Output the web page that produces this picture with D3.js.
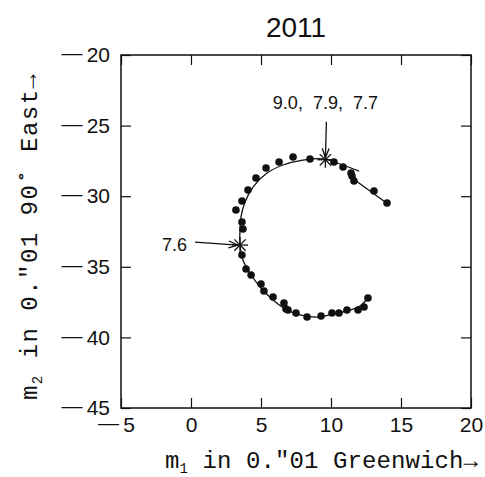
<!DOCTYPE html>
<html>
<head>
<meta charset="utf-8">
<script src="https://cdn.jsdelivr.net/npm/d3@7"></script>
<style>
  body { margin: 0; background: #fff; }
  svg { display: block; }
</style>
</head>
<body>
<div id="chart"></div>
<script>
// polar motion, 2011
const title = '2011'

// observed pole positions (dots)
const obsX = [8.5, 7.29, 6.29, 5.36, 4.64, 4.07, 3.64, 3.21, 3.64, 3.71, 3.64,
  10.21, 10.86, 11.43, 11.5, 11.64, 13.07, 14.0,
  3.93, 4.29, 5.0, 5.21, 5.86, 6.64, 6.79, 6.93, 7.5, 8.29, 9.29, 10.07, 10.57,
  11.14, 11.93, 12.36, 12.64]
const obsY = [-27.37, -27.22, -27.58, -28.0, -28.71, -29.56, -30.34, -30.98, -31.83, -32.32, -34.16,
  -27.58, -27.93, -28.36, -28.57, -28.92, -29.63, -30.48,
  -35.16, -35.58, -36.22, -36.71, -37.14, -37.56, -37.99, -38.06, -38.27, -38.56, -38.48, -38.27, -38.27,
  -38.06, -38.06, -37.85, -37.21]

// fitted path
const fitX = [12.64, 12.07, 11.36, 10.14, 9.21, 7.79, 6.86, 5.86, 4.93, 4.21, 3.71, 3.5,
  3.5, 3.57, 3.86, 4.43, 5.43, 6.57, 8.0, 9.57, 10.64, 12.0]
const fitY = [-37.21, -37.78, -38.06, -38.34, -38.56, -38.41, -38.06, -37.35, -36.43, -35.44, -34.52, -33.46,
  -32.39, -31.47, -30.41, -29.35, -28.36, -27.79, -27.44, -27.37, -27.72, -28.22]

// short segment at the end of the year
const tailX = [11.5, 14.07]
const tailY = [-28.71, -30.55]

// marked epochs
const starX = [9.6, 3.5]
const starY = [-27.42, -33.46]
const starLabels = ['9.0,  7.9,  7.7', '7.6']

const xTicks = [-5, 0, 5, 10, 15, 20]
const yTicks = [-45, -40, -35, -30, -25, -20]

const W = 485, H = 477
const box = {left: 121, top: 55, right: 471, bottom: 408}
const tickFont = 21

const svg = d3.select('#chart').append('svg')
  .attr('width', W)
  .attr('height', H)
  .style('font-family', '"Liberation Sans", Arial, sans-serif')

const x = d3.scaleLinear().domain([-5, 20]).range([box.left, box.right])
const y = d3.scaleLinear().domain([-45, -20]).range([box.bottom, box.top])

// negatives get a long dash raised to mid height, like the original
function longMinus (sel, shiftEm) {
  sel.filter(d => d < 0).each(function (d) {
    const t = d3.select(this).text(null).attr('dy', null)
    t.append('tspan').attr('dy', shiftEm * tickFont - 2).text('\u2014')
    t.append('tspan').attr('dy', 2).text('\u2009' + Math.abs(d))
  })
}

function drawAxes () {
  const gb = svg.append('g')
    .attr('transform', `translate(0,${box.bottom})`)
    .call(d3.axisBottom(x).tickValues(xTicks).tickFormat(d3.format('d')).tickSize(-10).tickSizeOuter(0).tickPadding(9))
  const gl = svg.append('g')
    .attr('transform', `translate(${box.left},0)`)
    .call(d3.axisLeft(y).tickValues(yTicks).tickFormat(d3.format('d')).tickSize(-10).tickSizeOuter(0).tickPadding(11))
  const gt = svg.append('g')
    .attr('transform', `translate(0,${box.top})`)
    .call(d3.axisTop(x).tickValues(xTicks).tickFormat('').tickSize(-10).tickSizeOuter(0))
  const gr = svg.append('g')
    .attr('transform', `translate(${box.right},0)`)
    .call(d3.axisRight(y).tickValues(yTicks).tickFormat('').tickSize(-10).tickSizeOuter(0))

  for (const g of [gb, gl, gt, gr]) {
    g.select('.domain').remove()
    g.selectAll('line').attr('stroke', '#111').attr('stroke-width', 1.2)
    g.selectAll('text')
      .attr('fill', '#111')
      .style('font-size', tickFont + 'px')
      .style('font-family', '"Liberation Sans", Arial, sans-serif')
  }
  gb.selectAll('text').call(longMinus, 0.71)
  gl.selectAll('text').call(longMinus, 0.32)
  // keep "-5" centred on its digit like the original
  gb.selectAll('text').filter(d => d < 0).attr('dx', -5)

  svg.append('rect')
    .attr('x', box.left).attr('y', box.top)
    .attr('width', box.right - box.left).attr('height', box.bottom - box.top)
    .attr('fill', 'none').attr('stroke', '#111').attr('stroke-width', 1.5)
}

function drawLabels () {
  svg.append('text')
    .attr('x', (box.left + box.right) / 2)
    .attr('y', 37)
    .attr('text-anchor', 'middle')
    .style('font-size', '28px')
    .attr('fill', '#111')
    .text(title)

  const mono = '"Liberation Mono", "Courier New", monospace'

  const xl = svg.append('text')
    .attr('x', 165).attr('y', 468)
    .attr('textLength', 313).attr('lengthAdjust', 'spacing')
    .style('font-family', mono).style('font-size', '24px')
    .attr('fill', '#111')
  xl.append('tspan').text('m')
  xl.append('tspan').attr('dy', 5).style('font-size', '14px').text('1')
  xl.append('tspan').attr('dy', -5).text(' in 0.\u203301 Greenwich\u2192')

  const yl = svg.append('text')
    .attr('transform', 'translate(37,400) rotate(-90)')
    .attr('textLength', 326).attr('lengthAdjust', 'spacing')
    .style('font-family', mono).style('font-size', '24px')
    .attr('fill', '#111')
  yl.append('tspan').text('m')
  yl.append('tspan').attr('dy', 5).style('font-size', '14px').text('2')
  yl.append('tspan').attr('dy', -5).text(' in 0.\u203301 90\u02da East\u2192')
}

function drawData () {
  const line = d3.line()
    .x(d => x(d[0]))
    .y(d => y(d[1]))
    .curve(d3.curveCatmullRom.alpha(0.5))

  svg.append('path')
    .datum(d3.zip(fitX, fitY))
    .attr('d', line)
    .attr('fill', 'none').attr('stroke', '#111').attr('stroke-width', 1.3)

  svg.append('path')
    .datum(d3.zip(tailX, tailY))
    .attr('d', d3.line().x(d => x(d[0])).y(d => y(d[1])))
    .attr('fill', 'none').attr('stroke', '#111').attr('stroke-width', 1.3)

  svg.append('g').selectAll('circle')
    .data(d3.zip(obsX, obsY))
    .join('circle')
    .attr('cx', d => x(d[0]))
    .attr('cy', d => y(d[1]))
    .attr('r', 3.8)
    .attr('fill', '#111')

  // asterisks
  const r = 8
  const spokes = [0, 45, 90, 135]
  const stars = svg.append('g').selectAll('g')
    .data(d3.zip(starX, starY))
    .join('g')
    .attr('transform', d => `translate(${x(d[0])},${y(d[1])})`)
  for (const a of spokes) {
    const t = a * Math.PI / 180
    stars.append('line')
      .attr('x1', -r * Math.cos(t)).attr('y1', -r * Math.sin(t))
      .attr('x2', r * Math.cos(t)).attr('y2', r * Math.sin(t))
      .attr('stroke', '#111').attr('stroke-width', 1.3)
  }
}

function arrow (x1, y1, x2, y2) {
  const a = Math.atan2(y2 - y1, x2 - x1)
  const len = 10, spread = 0.35
  svg.append('line')
    .attr('x1', x1).attr('y1', y1).attr('x2', x2).attr('y2', y2)
    .attr('stroke', '#111').attr('stroke-width', 1.3)
  svg.append('path')
    .attr('d', `M${x2 - len * Math.cos(a - spread)},${y2 - len * Math.sin(a - spread)}L${x2},${y2}L${x2 - len * Math.cos(a + spread)},${y2 - len * Math.sin(a + spread)}`)
    .attr('fill', 'none').attr('stroke', '#111').attr('stroke-width', 1.3)
}

function drawAnnotations () {
  const sx0 = x(starX[0]), sy0 = y(starY[0])
  arrow(sx0 + 1, sy0 - 38, sx0, sy0 - 2)
  svg.append('text')
    .attr('x', sx0).attr('y', sy0 - 51)
    .attr('text-anchor', 'middle')
    .style('font-size', '18px').style('white-space', 'pre')
    .attr('fill', '#111')
    .text(starLabels[0])

  const sx1 = x(starX[1]), sy1 = y(starY[1])
  arrow(sx1 - 45, sy1 - 3, sx1 - 2, sy1)
  svg.append('text')
    .attr('x', sx1 - 53).attr('y', sy1 + 6)
    .attr('text-anchor', 'end')
    .style('font-size', '18px')
    .attr('fill', '#111')
    .text(starLabels[1])
}

drawAxes()
drawData()
drawAnnotations()
drawLabels()
</script>
</body>
</html>
